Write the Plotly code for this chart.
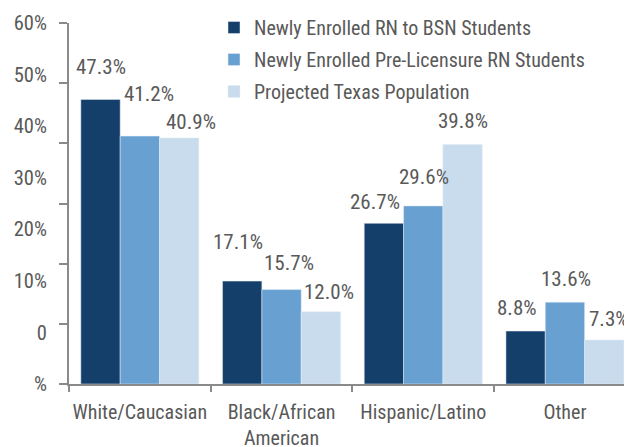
import plotly.graph_objects as go
import numpy as np

# ---- data ----
categories = ["White/Caucasian", "Black/African<br>American", "Hispanic/Latino", "Other"]
series_names = [
    "Newly Enrolled RN to BSN Students",
    "Newly Enrolled Pre-Licensure RN Students",
    "Projected Texas Population",
]
rn_to_bsn = [47.3, 17.1, 26.7, 8.8]
pre_licensure = [41.2, 15.7, 29.6, 13.6]
texas_population = [40.9, 12.0, 39.8, 7.3]
y_tick_text = ["60%", "50%", "40%", "30%", "20%", "10%", "0", "%"]

# ---- styling ----
colors = ["#153f6b", "#68a1d1", "#c8dcee"]
FONT = ("Liberation Sans Narrow, Noto Sans ExtraCondensed, Noto Sans Condensed, "
        "Roboto Condensed, DejaVu Sans Condensed, sans-serif")
TXT = "#595959"
AX = "#8a8a8a"
BARGAP = 0.167
# the page body adds an 8px margin, so the figure is sized to fit the window
W, H = 624, 439
L, T, B, R = 61, 15, 63, 0
CAT_PX = 141.7
# label pixel offsets (dx, dy) relative to each bar's top centre
label_dx = [[0, -4, -9, -9], [9, 7, 1, 1], [12, 8, 0, 5]]
label_dy = [[32, 39, 21, 23], [42, 27, 29, 23], [16, 20, 24, 21]]

xpos = list(range(len(categories)))
all_series = [rn_to_bsn, pre_licensure, texas_population]

fig = go.Figure()
for j, (name, vals) in enumerate(zip(series_names, all_series)):
    fig.add_trace(go.Bar(
        x=xpos, y=vals, name=name, marker_color=colors[j],
        legendgroup=f"g{j}", hoverinfo="skip",
    ))

w = (1 - BARGAP) / 3
annotations = []
for j, vals in enumerate(all_series):
    for i, v in enumerate(vals):
        annotations.append(dict(
            x=xpos[i] + (j - 1) * w, y=v, xref="x", yref="y",
            text=f"{v:.1f}%", showarrow=False,
            xanchor="center", yanchor="middle",
            xshift=label_dx[j][i], yshift=label_dy[j][i],
            font=dict(family=FONT, size=21, color=TXT),
        ))

fig.update_layout(
    width=W, height=H,
    margin=dict(l=L, r=R, t=T, b=B, pad=0, autoexpand=False),
    paper_bgcolor="white", plot_bgcolor="white",
    barmode="group", bargap=BARGAP, bargroupgap=0,
    font=dict(family=FONT, size=20, color=TXT),
    showlegend=True,
    legend=dict(
        xref="container", yref="container",
        x=206 / W, y=1.0172, xanchor="left", yanchor="top",
        font=dict(family=FONT, size=20, color=TXT),
        tracegroupgap=3, bgcolor="rgba(0,0,0,0)",
        itemclick=False, itemdoubleclick=False,
    ),
    annotations=annotations,
    xaxis=dict(
        range=[-0.5, -0.5 + (W - L - R) / CAT_PX], automargin=False, tickangle=0,
        tickmode="array", tickvals=xpos, ticktext=categories,
        ticks="", ticklabelstandoff=9, showgrid=False, zeroline=False,
        showline=True, linecolor=AX, linewidth=2,
        tickfont=dict(family=FONT, size=20, color=TXT),
        minor=dict(tickmode="array", tickvals=[-0.5, 0.5, 1.5, 2.5],
                   ticks="outside", ticklen=6, tickwidth=1.5,
                   tickcolor=AX, showgrid=False),
        fixedrange=True,
    ),
    yaxis=dict(
        range=[0, 60], automargin=False,
        tickmode="array", tickvals=list(np.linspace(60, 0, len(y_tick_text))),
        ticktext=y_tick_text, ticks="", ticklabelstandoff=16,
        showgrid=False, zeroline=False,
        showline=True, linecolor=AX, linewidth=2,
        tickfont=dict(family=FONT, size=20.5, color=TXT),
        minor=dict(tickmode="array", tickvals=[0, 10, 20, 30, 40, 50, 60],
                   ticks="outside", ticklen=8, tickwidth=1.5,
                   tickcolor=AX, showgrid=False),
        fixedrange=True,
    ),
)

fig.write_html("out.html")
